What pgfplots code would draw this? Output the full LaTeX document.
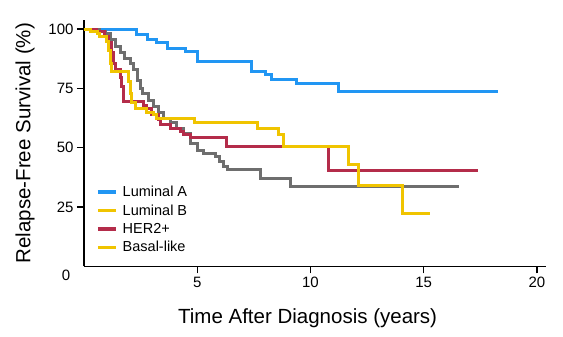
\documentclass[border=0pt]{standalone}
\usepackage{fontspec}
\setmainfont{Liberation Sans}
\usepackage{pgfplots}
\pgfplotsset{compat=1.18}
\definecolor{cblue}{RGB}{33,150,243}
\definecolor{cyellow}{RGB}{240,196,0}
\definecolor{cred}{RGB}{180,44,74}
\definecolor{cgrey}{RGB}{110,110,110}
\begin{document}
\begin{tikzpicture}
\path[use as bounding box] (0,0) rectangle (563pt,337pt);
\begin{axis}[
  at={(84pt,70.5pt)}, anchor=south west,
  scale only axis, width=462pt, height=246.5pt,
  xmin=0, xmax=20.4, ymin=0, ymax=103.8,
  axis lines=left,
  axis line style={line width=1.6pt, -},
  xtick={5,10,15,20}, ytick={25,50,75,100},
  extra x ticks={0},
  extra x tick style={major tick length=0pt, tick label style={xshift=-18pt}},
  tick align=outside, major tick length=7pt,
  tick style={line width=1.4pt, black},
  /pgf/number format/assume math mode=true,
  tick label style={font=\fontsize{15}{18}\selectfont},
  xlabel={Time After Diagnosis (years)},
  ylabel={Relapse-Free Survival (\%)},
  label style={font=\fontsize{20.5}{24}\selectfont},
  xlabel style={at={(axis description cs:0.484,-0.209)}, anchor=center},
  ylabel style={at={(axis description cs:-0.1277,0.50)}, anchor=center},
  legend style={at={(axis description cs:0.026,0.335)}, anchor=north west, draw=none, fill=none,
    font=\fontsize{14.5}{17}\selectfont, row sep=2.5pt, column sep=3pt, inner sep=0pt},
  legend cell align=left,
  clip=false,
  every axis plot/.append style={line width=3pt, const plot},
]
% Luminal A (blue)
\addplot[cblue, forget plot] coordinates {
(0,100) (1.95,100) (2.3,97.6) (2.8,95.4) (3.2,94.2) (3.7,92) (4.5,90.4) (5.0,86.3)
(7.4,82) (8.0,80.7) (8.3,78.9) (9.4,77.2) (11.25,73.5) (18.3,73.5)};
% grey curve
\addplot[cgrey, forget plot] coordinates {
(0,100) (0.7,99) (0.93,98) (1.15,95.5) (1.37,92.5) (1.6,90) (1.8,87.5) (2.04,85.5)
(2.17,83) (2.35,78.5) (2.48,75) (2.6,73) (2.83,70) (3.05,67.5) (3.27,65) (3.5,62.5)
(3.8,60.5) (4.1,58) (4.4,56) (4.7,52) (5.0,49) (5.27,47.7) (5.8,46.3) (6.0,44.2)
(6.15,42.1) (6.33,40.7) (7.8,37.2) (9.1,33.6) (16.55,33.6)};
% HER2+ (red)
\addplot[cred, forget plot] coordinates {
(0,100) (0.55,99) (0.9,97) (1.08,94.5) (1.22,90) (1.3,85.5) (1.37,83) (1.6,79.5)
(1.67,76) (1.74,69.4) (2.63,68) (2.77,66.7) (3.0,64) (3.27,61.7) (3.36,59.6) (3.8,58.2)
(4.25,57) (4.4,55.4) (4.7,54.2) (6.3,50.5) (10.8,40.5) (17.4,40.5)};
% Luminal B (yellow)
\addplot[cyellow, forget plot] coordinates {
(0,100) (0.27,99) (0.58,98.3) (0.7,97) (1.0,94.7) (1.08,91) (1.15,85.5) (1.22,82)
(1.96,78) (2.04,73) (2.1,69) (2.26,66.7) (2.77,65) (3.07,64) (3.2,62.5) (4.9,60.5)
(7.64,58.2) (8.6,55.4) (8.8,50.5) (11.7,43) (12.1,34) (14.05,22.5) (15.3,22.5)};
\addlegendimage{legend image code/.code={\draw[cblue, line width=3.5pt] (0pt,0pt) -- (18pt,0pt);}}
\addlegendentry{Luminal A}
\addlegendimage{legend image code/.code={\draw[cyellow, line width=3.5pt] (0pt,0pt) -- (18pt,0pt);}}
\addlegendentry{Luminal B}
\addlegendimage{legend image code/.code={\draw[cred, line width=3.5pt] (0pt,0pt) -- (18pt,0pt);}}
\addlegendentry{HER2+}
\addlegendimage{legend image code/.code={\draw[cyellow, line width=3.5pt] (0pt,0pt) -- (18pt,0pt);}}
\addlegendentry{Basal-like}
\end{axis}
\end{tikzpicture}
\end{document}
